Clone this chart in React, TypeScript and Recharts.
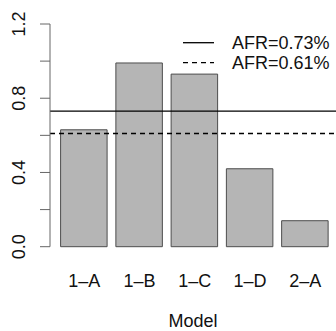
import { Bar, ComposedChart, ReferenceLine, XAxis, YAxis } from "recharts";

const models = ["1–A", "1–B", "1–C", "1–D", "2–A"];
const afrValues = [0.63, 0.99, 0.93, 0.42, 0.14];
const yTicks = [0, 0.2, 0.4, 0.6, 0.8, 1.0, 1.2];
const yLabels = [0, 0.4, 0.8, 1.2];
const refLevels = [0.73, 0.61];
const refLabels = ["AFR=0.73%", "AFR=0.61%"];

const chartData = models.map((model, i) => ({ model, afr: afrValues[i] }));

const font = "'Liberation Sans', Arial, Helvetica, sans-serif";

function YTick(props: any) {
  const { y, payload } = props;
  const v = payload.value;
  if (!yLabels.some((l) => Math.abs(l - v) < 1e-9)) return null;
  const x = 25;
  return (
    <text
      x={x}
      y={y}
      transform={`rotate(-90, ${x}, ${y})`}
      textAnchor="middle"
      fontSize={18}
      fontFamily={font}
      fill="#111"
    >
      {v.toFixed(1)}
    </text>
  );
}

function XTick(props: any) {
  const { x, payload } = props;
  return (
    <text x={x} y={287} textAnchor="middle" fontSize={18} fontFamily={font} fill="#111">
      {payload.value}
    </text>
  );
}

export default function App() {
  return (
    <div style={{ position: "absolute", left: 0, top: 0, width: 336, height: 331, background: "#fff" }}>
      <ComposedChart
        width={336}
        height={331}
        data={chartData}
        margin={{ top: 24, right: 0, bottom: 0, left: 0 }}
      >
        <YAxis
          domain={[0, 1.2]}
          ticks={yTicks}
          width={50}
          tickSize={10}
          tick={<YTick />}
          stroke="#666"
          axisLine={{ stroke: "#666" }}
          tickLine={{ stroke: "#666" }}
          interval={0}
        />
        <XAxis
          dataKey="model"
          height={84.3}
          axisLine={false}
          tickLine={false}
          tick={<XTick />}
          interval={0}
          padding={{ left: 6.6, right: 3.1 }}
          label={{
            value: "Model",
            position: "insideBottom",
            offset: 4,
            fontSize: 18,
            fontFamily: font,
            fill: "#111",
          }}
        />
        <Bar
          dataKey="afr"
          barSize={46.5}
          fill="#b5b5b5"
          stroke="#4d4d4d"
          strokeWidth={1}
          isAnimationActive={false}
        />
        <ReferenceLine y={refLevels[0]} stroke="#000" strokeWidth={1.3} />
        <ReferenceLine y={refLevels[1]} stroke="#000" strokeWidth={1.3} strokeDasharray="5 4" />
      </ComposedChart>
      <svg
        width={336}
        height={331}
        style={{ position: "absolute", left: 0, top: 0, pointerEvents: "none" }}
      >
        {refLabels.map((label, i) => (
          <g key={label}>
            <line
              x1={183}
              x2={214}
              y1={42.7 + i * 20}
              y2={42.7 + i * 20}
              stroke="#000"
              strokeWidth={1.3}
              strokeDasharray={i === 1 ? "5 4" : undefined}
            />
            <text x={232} y={49 + i * 20} fontSize={18} fontFamily={font} fill="#111">
              {label}
            </text>
          </g>
        ))}
      </svg>
    </div>
  );
}
